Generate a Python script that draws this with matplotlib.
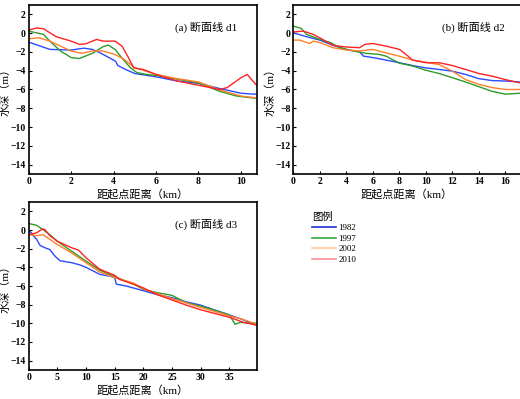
import matplotlib
matplotlib.use("Agg")
import matplotlib.pyplot as plt
from matplotlib.lines import Line2D

plt.rcParams['font.family'] = ['Liberation Serif', 'Noto Sans CJK SC']

years = ["1982", "1997", "2002", "2010"]
colors = ["#2a4bff", "#2f9a2a", "#ff7f2a", "#ff2222"]
legend_colors = ["#1f2fd0", "#3aa83a", "#ffc8a0", "#ff8c9a"]

# panel (a) section d1
d1_x = {
    "1982": [0, 1, 2, 2.6, 3, 3.37, 3.7, 4.1, 4.2, 4.6, 5, 6, 7, 8, 9, 10, 10.6, 10.75],
    "1997": [0, 0.7, 1, 1.5, 2, 2.4, 3.05, 3.5, 3.75, 4.07, 4.45, 4.8, 5.1, 5.55, 6, 7, 8, 9, 9.8, 10.75],
    "2002": [0, 0.5, 1, 2, 2.5, 3, 3.5, 4.07, 4.5, 5, 5.55, 6, 7, 8, 9, 10, 10.75],
    "2010": [0, 0.38, 0.7, 1, 1.3, 2, 2.4, 2.7, 3.2, 3.5, 4.07, 4.4, 4.7, 4.95, 5.4, 6, 7, 8, 9, 9.35, 10, 10.3, 10.5, 10.75],
}
d1_y = {
    "1982": [-0.95, -1.73, -1.8, -1.6, -1.73, -2.1, -2.5, -3.0, -3.45, -3.9, -4.3, -4.65, -5.1, -5.35, -5.9, -6.4, -6.5, -6.45],
    "1997": [0.22, -0.13, -0.85, -1.9, -2.6, -2.7, -2.1, -1.45, -1.27, -1.73, -2.8, -3.7, -4.2, -4.4, -4.5, -4.9, -5.3, -6.2, -6.7, -6.95],
    "2002": [-0.6, -0.5, -0.85, -1.9, -2.15, -1.9, -1.9, -2.27, -2.8, -3.7, -4.05, -4.4, -4.85, -5.2, -6.05, -6.7, -6.9],
    "2010": [0.33, 0.55, 0.47, 0.04, -0.38, -0.85, -1.2, -1.13, -0.67, -0.85, -0.85, -1.38, -2.6, -3.7, -3.87, -4.4, -5.1, -5.55, -6.0, -5.8, -4.75, -4.4, -4.95, -5.57],
}

# panel (b) section d2
d2_x = {
    "1982": [0, 1, 2, 3, 4, 5, 5.3, 6, 7, 8, 9, 10, 11, 12, 13, 14, 15, 16, 17.1],
    "1997": [0, 0.6, 1, 2, 2.8, 3.5, 4.5, 5.5, 6.5, 7, 8, 9, 10, 11, 12, 13, 14, 15, 16, 17.1],
    "2002": [0, 0.5, 1, 1.25, 1.5, 2, 3, 4, 5, 6, 7, 8, 9, 10, 11, 12, 13, 14, 15, 16, 17.1],
    "2010": [0, 0.75, 1.5, 2, 3, 4, 5, 5.4, 6, 7, 8, 8.5, 9, 10, 11, 12, 13, 14, 15, 16, 17.1],
}
d2_y = {
    "1982": [0.04, -0.38, -0.74, -1.3, -1.73, -2.0, -2.45, -2.6, -2.87, -3.15, -3.45, -3.7, -3.87, -4.05, -4.4, -4.85, -5.05, -5.1, -5.2],
    "1997": [0.75, 0.5, -0.13, -0.67, -1.0, -1.55, -1.9, -2.15, -2.27, -2.45, -3.2, -3.5, -3.95, -4.3, -4.75, -5.2, -5.7, -6.2, -6.5, -6.4],
    "2002": [-0.74, -0.74, -1.0, -1.1, -0.85, -1.0, -1.55, -1.8, -1.9, -1.73, -2.1, -2.45, -2.87, -3.1, -3.35, -4.05, -4.95, -5.45, -5.8, -6.0, -6.0],
    "2010": [0.12, 0.22, -0.13, -0.5, -1.3, -1.48, -1.55, -1.2, -1.1, -1.38, -1.73, -2.27, -2.87, -3.15, -3.15, -3.45, -3.87, -4.3, -4.58, -4.95, -5.3],
}

# panel (c) section d3
d3_x = {
    "1982": [0, 0.5, 0.8, 1.4, 2, 2.85, 3.7, 4.6, 5.5, 7.5, 9, 10, 11.3, 12.4, 14.2, 15, 15.3, 17, 20, 22.3, 25, 27.5, 30, 32.8, 35, 36.9, 39.8],
    "1997": [0, 1.4, 2.5, 3.7, 5, 7.5, 10, 12.4, 15, 18.3, 20, 22.3, 25, 27.5, 30, 32.8, 35, 36, 36.9, 39.8],
    "2002": [0, 1.4, 2.5, 3.7, 5, 7.5, 10, 12.4, 15, 18.3, 20, 22.3, 25, 27.5, 30, 32.8, 35, 37.5, 39.8],
    "2010": [0, 1.4, 2.45, 2.85, 3.7, 5, 7.5, 8.7, 10, 12.4, 15, 15.9, 18.3, 20, 22.3, 25, 27.5, 30, 32.8, 35, 37.5, 39.8],
}
d3_y = {
    "1982": [-0.06, -0.3, -0.6, -1.0, -1.66, -1.9, -2.1, -2.8, -3.3, -3.5, -3.75, -4.0, -4.4, -4.75, -4.95, -5.1, -5.8, -6.0, -6.5, -6.9, -7.25, -7.7, -8.05, -8.65, -9.1, -9.5, -10.2],
    "1997": [0.7, 0.5, 0.04, -0.5, -1.2, -2.27, -3.33, -4.3, -5.0, -5.8, -6.35, -6.7, -7.0, -7.8, -8.15, -8.65, -9.1, -10.1, -9.9, -10.0],
    "2002": [-0.5, -0.6, -0.5, -1.0, -1.55, -2.45, -3.5, -4.5, -5.1, -5.7, -6.3, -6.8, -7.35, -7.8, -8.3, -8.8, -9.2, -9.6, -10.1],
    "2010": [-0.5, -0.3, 0.12, 0.04, -0.6, -1.2, -1.9, -2.15, -2.97, -4.2, -4.85, -5.3, -5.8, -6.2, -6.9, -7.5, -8.05, -8.55, -9.0, -9.35, -9.9, -10.2],
}

panels = [
    ("(a) 断面线 d1", d1_x, d1_y, 10.75, range(0, 11, 2), [0.055, 0.564, 0.439, 0.4235], (6.9, 0.6)),
    ("(b) 断面线 d2", d2_x, d2_y, 17.1, range(0, 17, 2), [0.564, 0.564, 0.436, 0.4235], (11.2, 0.6)),
    ("(c) 断面线 d3", d3_x, d3_y, 39.8, range(0, 36, 5), [0.055, 0.0727, 0.439, 0.421], (25.6, 0.6)),
]

fig = plt.figure(figsize=(5.2, 3.99), dpi=100)

for title, xs, ys, xmax, xticks, pos, tpos in panels:
    ax = fig.add_axes(pos)
    for yr, c in zip(years, colors):
        ax.plot(xs[yr], ys[yr], color=c, lw=1.0)
    ax.set_xlim(0, xmax)
    ax.set_ylim(-15, 3)
    ax.set_xticks(list(xticks))
    ax.set_yticks(range(-14, 3, 2))
    ax.tick_params(direction="in", length=2.5, width=0.8, labelsize=7, pad=2)
    for lab in ax.get_xticklabels() + ax.get_yticklabels():
        lab.set_fontweight("bold")
    for s in ax.spines.values():
        s.set_linewidth(1.2)
    if title.startswith("(b)"):
        ax.spines["right"].set_visible(False)
    ax.text(tpos[0], tpos[1], title, fontsize=8, va="center", ha="left")
    ax.set_xlabel("距起点距离（km）", fontsize=8, fontweight="medium", labelpad=2)
    ax.set_ylabel("水深（m）", fontsize=8, fontweight="medium", labelpad=0)

# legend
handles = [Line2D([], [], color=c, lw=1.2) for c in legend_colors]
fig.legend(handles, years, title="图例", loc="upper left",
           bbox_to_anchor=(0.585, 0.49), frameon=False, fontsize=6.5,
           title_fontsize=7.5, handlelength=2.6, handletextpad=0.3,
           labelspacing=0.25, alignment="left")

fig.savefig("out.png", dpi=100)
